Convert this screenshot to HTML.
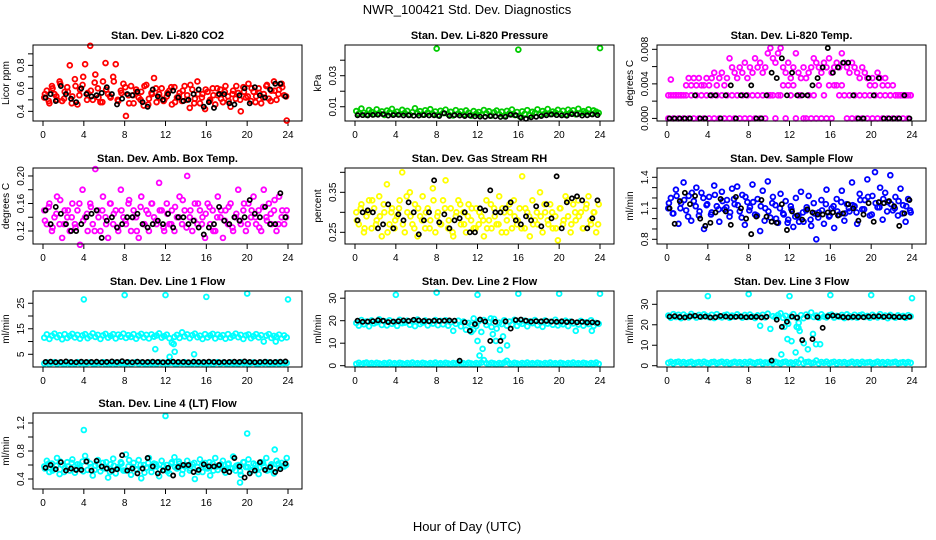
<!DOCTYPE html>
<html><head><meta charset="utf-8"><title>NWR_100421 Std. Dev. Diagnostics</title>
<style>
html,body{margin:0;padding:0;background:#fff;}
svg{display:block;font-family:"Liberation Sans",Arial,sans-serif;}
</style></head>
<body>
<svg id="chart" width="936" height="540" viewBox="0 0 936 540" xmlns="http://www.w3.org/2000/svg">
<text x="467" y="14" text-anchor="middle" font-size="13">NWR_100421  Std. Dev. Diagnostics</text>
<text x="467" y="531" text-anchor="middle" font-size="13">Hour of Day (UTC)</text>
</svg>
<script>
// ---------- data ----------
const xTicks = [0,4,8,12,16,20,24];

const co2Vals = [0.52,0.58,0.47,0.62,0.55,0.50,0.66,0.49,0.57,0.61,0.80,0.53,0.68,0.46,0.59,0.63,
0.81,0.56,0.97,0.50,0.72,0.60,0.48,0.66,0.82,0.55,0.52,0.70,0.81,0.49,0.58,0.64,
0.36,0.54,0.62,0.47,0.59,0.52,0.57,0.45,0.63,0.51,0.56,0.69,0.48,0.55,0.60,0.50,
0.53,0.58,0.46,0.61,0.52,0.56,0.49,0.62,0.54,0.43,0.59,0.51,0.66,0.47,0.55,0.42,
0.57,0.50,0.60,0.46,0.54,0.59,0.48,0.62,0.53,0.44,0.58,0.51,0.56,0.40,0.61,0.52,
0.64,0.49,0.57,0.53,0.60,0.47,0.55,0.62,0.51,0.58,0.66,0.50,0.59,0.64,0.54,0.32];
const co2Vals2 = [0.55,0.49,0.60,0.53,0.64,0.51,0.57,0.47,0.62,0.54,0.70,0.50,0.58,0.65,0.52,0.48,
0.59,0.53,0.66,0.50,0.56,0.61,0.47,0.54,0.57,0.50,0.62,0.46,0.55,0.60,0.52,0.49,
0.56,0.61,0.48,0.53,0.58,0.50,0.63,0.47,0.55,0.52,0.59,0.49,0.54,0.60,0.51,0.57,
0.49,0.55,0.62,0.50,0.57,0.53,0.60,0.48,0.56,0.52,0.63,0.49,0.58,0.55,0.61,0.53];
const co2Black = [0.52,0.55,0.49,0.62,0.55,0.51,0.48,0.60,0.55,0.53,0.54,0.56,0.61,0.55,0.46,0.51,0.55,0.54,0.57,0.48,0.44,0.59,0.53,0.50,0.55,0.58,0.52,0.49,0.50,0.55,0.59,0.44,0.48,0.43,0.55,0.55,0.47,0.46,0.54,0.60,0.47,0.61,0.54,0.52,0.59,0.64,0.64,0.53];

const presVals = [0.0072,0.0055,0.0088,0.0061,0.0049,0.0079,0.0066,0.0052,0.0083,0.0058,0.0070,0.0047,0.0075,0.0063,0.0086,0.0054,
0.0068,0.0051,0.0080,0.0060,0.0073,0.0048,0.0065,0.0090,0.0057,0.0071,0.0050,0.0077,0.0062,0.0084,0.0053,0.0069,
0.0046,0.0074,0.0059,0.0081,0.0052,0.0067,0.0044,0.0078,0.0056,0.0070,0.0049,0.0076,0.0061,0.0042,0.0072,0.0055,
0.0066,0.0048,0.0079,0.0058,0.0071,0.0043,0.0064,0.0075,0.0052,0.0068,0.0040,0.0073,0.0057,0.0082,0.0047,0.0066,
0.0038,0.0070,0.0054,0.0078,0.0045,0.0067,0.0060,0.0083,0.0050,0.0072,0.0058,0.0085,0.0053,0.0069,0.0062,0.0080,
0.0056,0.0074,0.0049,0.0081,0.0063,0.0077,0.0051,0.0087,0.0059,0.0071,0.0064,0.0083,0.0055,0.0076,0.0068,0.0060];
const presOutHours = [8,16,24];
const presOutVals = [0.0475,0.0468,0.0478];
const presBlack = [0.0045,0.0046,0.0044,0.0047,0.0048,0.0052,0.0043,0.0046,0.0047,0.0044,0.0045,0.0042,0.0043,0.0046,0.0044,0.0045,0.0040,0.0058,0.0041,0.0046,0.0043,0.0040,0.0044,0.0038,0.0036,0.0035,0.0040,0.0038,0.0034,0.0035,0.0048,0.0045,0.0030,0.0022,0.0032,0.0035,0.0040,0.0045,0.0050,0.0046,0.0044,0.0042,0.0052,0.0050,0.0043,0.0045,0.0050,0.0046];

const tempLow = [0,0.0045,0,0.00267,0,0.00267,0,0.00267,0,0.00267,0,0.00267,0,0.00267,0,0.00267,
0,0.00267,0,0.00267,0,0.00267,0,0.00267,0,0.00267,0,0.00267,0,0.00267,0,0.00267,
0,0.00267,0,0.00267,0,0.00267,0,0.00267,0.00267,0.00267,0,0.00267,0.00267,0.00383,0,0.00383,
0.00267,0.00383,0,0.00267,0.00267,0,0,0.00267,0,0.00267,0,0.00383,0,0.00267,0,0.00383,
0,0.00383,0.00383,0.00267,0.00383,0.00267,0,0.00267,0,0.00267,0,0.00267,0,0.00267,0,0.00267,
0,0.00267,0,0.00267,0,0.00267,0,0.00267,0,0.00267,0,0.00267,0,0.00267,0,0.00267];
const tempHigh = [0.00267,0.00267,0.00267,0.00267,0.00267,0.00267,0.00267,0.00383,0.00467,0.00383,0.00467,0.00383,0.00467,0.00383,0.00383,0.00467,
0.00383,0.00467,0.00529,0.00383,0.00467,0.00529,0.00383,0.00467,0.00696,0.00591,0.00529,0.00467,0.00591,0.00529,0.00645,0.00467,
0.00591,0.00529,0.00696,0.00591,0.00645,0.00529,0.00591,0.00754,0.00815,0.00696,0.00645,0.00754,0.00815,0.00591,0.00529,0.00645,
0.00467,0.00591,0.00754,0.00529,0.00467,0.00591,0.00467,0.00529,0.00591,0.00696,0.00645,0.00591,0.00529,0.00645,0.00591,0.00696,
0.00529,0.00591,0.00645,0.00591,0.00754,0.00645,0.00591,0.00529,0.00645,0.00591,0.00529,0.00467,0.00591,0.00529,0.00467,0.00383,
0.00467,0.00383,0.00529,0.00467,0.00383,0.00467,0.00383,0.00267,0.00383,0.00267,0.00267,0.00267,0.00267,0.00267,0.00267,0.00267];
const tempBlack = [0,0,0,0,0,0.00267,0,0,0.00267,0.00267,0,0.00267,0.00383,0,0.00267,0.00267,0.00383,0,0,0.00267,0.00529,0.00467,0.00696,0.00267,0.00529,0.00267,0.00267,0.00267,0.00383,0.00467,0.00591,0.00815,0.00529,0.00591,0.00645,0.00645,0.00267,0,0,0.00467,0.00267,0.00467,0,0,0,0,0.00267,0];

const boxVals = [0.15,0.13,0.16,0.12,0.14,0.17,0.13,0.11,0.15,0.14,0.12,0.16,0.13,0.15,0.10,0.18,
0.14,0.12,0.16,0.13,0.21,0.15,0.12,0.17,0.14,0.11,0.16,0.13,0.15,0.12,0.18,0.14,
0.13,0.16,0.12,0.15,0.14,0.11,0.17,0.13,0.15,0.12,0.16,0.14,0.13,0.19,0.15,0.12,
0.16,0.13,0.15,0.12,0.14,0.17,0.13,0.15,0.20,0.14,0.12,0.16,0.13,0.15,0.14,0.11,
0.16,0.13,0.15,0.12,0.17,0.14,0.11,0.15,0.13,0.16,0.12,0.14,0.18,0.13,0.15,0.12,
0.16,0.14,0.17,0.13,0.15,0.12,0.18,0.14,0.16,0.13,0.15,0.12,0.17,0.14,0.13,0.15];
const boxVals2 = [0.135,0.155,0.125,0.145,0.165,0.13,0.15,0.14,0.125,0.16,0.135,0.145,0.155,0.12,0.14,0.15,
0.13,0.16,0.145,0.125,0.15,0.135,0.165,0.14,0.12,0.155,0.13,0.145,0.16,0.135,0.15,0.125,
0.145,0.13,0.155,0.14,0.165,0.125,0.15,0.135,0.16,0.13,0.145,0.155,0.12,0.14,0.15,0.135,
0.155,0.125,0.145,0.135,0.16,0.13,0.15,0.14,0.125,0.155,0.135,0.145,0.165,0.13,0.15,0.14];
const boxBlack = [0.15,0.13,0.155,0.145,0.13,0.12,0.12,0.13,0.14,0.145,0.15,0.11,0.135,0.14,0.125,0.13,0.14,0.14,0.145,0.13,0.125,0.13,0.135,0.13,0.145,0.125,0.14,0.14,0.13,0.135,0.125,0.115,0.125,0.13,0.155,0.135,0.13,0.14,0.135,0.14,0.165,0.145,0.14,0.155,0.13,0.13,0.175,0.14];

const rhVals = [0.30,0.27,0.32,0.25,0.29,0.33,0.26,0.31,0.28,0.34,0.24,0.30,0.37,0.27,0.31,0.26,
0.29,0.33,0.40,0.25,0.30,0.35,0.27,0.32,0.24,0.29,0.34,0.26,0.31,0.28,0.36,0.25,
0.30,0.27,0.33,0.38,0.26,0.31,0.24,0.29,0.33,0.27,0.30,0.25,0.32,0.28,0.26,0.31,
0.27,0.29,0.24,0.33,0.28,0.26,0.31,0.27,0.34,0.25,0.30,0.28,0.32,0.26,0.29,0.27,
0.31,0.39,0.26,0.30,0.24,0.33,0.28,0.27,0.35,0.25,0.30,0.28,0.32,0.26,0.29,0.23,
0.31,0.27,0.34,0.29,0.25,0.32,0.28,0.33,0.30,0.26,0.31,0.34,0.27,0.30,0.25,0.32];
const rhVals2 = [0.28,0.31,0.26,0.30,0.33,0.27,0.29,0.32,0.25,0.30,0.28,0.31,0.27,0.34,0.29,0.26,
0.31,0.28,0.30,0.26,0.33,0.29,0.27,0.31,0.28,0.25,0.30,0.32,0.27,0.29,0.31,0.26,
0.30,0.28,0.26,0.32,0.29,0.27,0.31,0.25,0.30,0.33,0.28,0.26,0.31,0.29,0.27,0.30,
0.29,0.32,0.27,0.30,0.26,0.31,0.28,0.33,0.27,0.30,0.29,0.26,0.32,0.28,0.30,0.27];
const rhBlack = [0.28,0.30,0.305,0.30,0.26,0.27,0.32,0.26,0.295,0.28,0.325,0.30,0.245,0.28,0.30,0.38,0.275,0.295,0.26,0.28,0.285,0.30,0.25,0.25,0.31,0.305,0.355,0.30,0.30,0.31,0.325,0.28,0.27,0.29,0.28,0.315,0.265,0.32,0.285,0.39,0.26,0.325,0.335,0.34,0.33,0.26,0.285,0.33];

const flowVals = [1.10,1.20,1.05,1.28,0.95,1.15,1.35,1.08,1.22,0.98,1.17,1.30,1.03,1.25,0.90,1.13,
1.21,1.06,1.32,1.12,0.97,1.26,1.09,1.18,1.02,1.29,1.14,1.31,1.07,1.23,0.94,1.16,
1.11,1.33,1.04,1.19,0.88,1.27,1.10,1.36,1.01,1.21,1.13,0.96,1.24,1.05,1.17,0.99,
1.12,0.92,1.20,1.03,1.26,0.97,1.08,1.22,0.93,1.15,0.80,1.06,1.18,0.95,1.28,1.02,
1.10,0.91,1.19,1.04,1.27,0.98,1.14,1.07,1.35,1.12,0.95,1.24,1.09,1.18,1.38,1.03,
1.22,1.45,1.11,1.30,0.99,1.25,1.16,1.42,1.08,1.21,1.03,1.29,1.13,0.97,1.19,1.06];
const flowVals2 = [1.15,1.05,1.22,1.10,1.18,1.02,1.25,1.12,1.07,1.20,1.14,1.04,1.23,1.09,1.17,1.11,
1.06,1.19,1.13,1.01,1.21,1.08,1.16,1.03,1.12,0.98,1.07,1.15,1.00,1.10,1.04,0.96,
1.09,1.02,0.97,1.06,1.11,0.99,1.05,1.01,1.08,1.14,1.03,1.12,1.07,1.16,1.05,1.10,
1.13,1.06,1.18,1.09,1.21,1.04,1.15,1.11,1.19,1.07,1.14,1.10,1.17,1.05,1.12,1.08];
const flowBlack = [1.10,0.95,1.17,1.25,1.14,1.22,1.00,0.93,0.96,1.06,1.19,1.07,0.94,1.21,1.10,1.00,0.85,1.02,1.18,1.02,0.97,0.96,1.14,0.89,1.07,1.03,0.99,1.09,1.06,1.04,1.04,1.06,1.06,1.03,1.05,1.14,1.10,0.98,1.04,1.15,0.97,1.16,1.15,1.17,1.12,0.93,1.05,1.18];

const l1Top = [11.5,12.8,11.0,12.3,13.1,11.7,12.5,10.9,12.9,11.4,12.2,13.0,11.6,12.6,11.1,12.4,
12.9,11.3,12.1,13.2,11.8,12.6,11.0,12.4,13.0,11.5,12.2,12.9,11.2,12.7,11.9,13.1,
11.4,12.5,11.8,12.9,11.1,12.3,13.0,11.6,12.6,11.2,12.8,11.9,12.4,13.2,11.5,12.1,
12.7,11.3,9.5,11.8,12.6,11.4,13.6,12.0,12.8,11.3,12.5,13.1,11.7,12.3,11.0,12.9,
11.6,12.4,13.0,11.2,12.7,11.8,12.5,11.1,12.9,11.5,12.2,13.1,11.7,12.6,11.0,12.4,
12.8,11.3,12.1,12.9,11.6,12.5,10.0,12.3,12.9,11.4,12.2,11.8,12.7,11.2,12.4,11.6];
const l1Bottom = [1.4,1.8,1.2,1.6,1.9,1.3,1.7,1.5,1.2,1.8,1.4,1.6,1.3,1.9,1.5,1.7,
1.2,1.6,1.8,1.4,1.3,1.7,1.5,1.9,1.2,1.6,1.4,1.8,1.3,1.7,1.5,1.6,
1.4,1.8,1.2,1.6,1.9,1.3,1.7,1.5,1.2,1.8,1.4,1.6,1.3,1.9,1.5,1.7,
1.2,1.6,1.8,1.4,1.3,1.7,1.5,1.9,1.2,1.6,1.4,1.8,1.3,1.7,1.5,1.6,
1.4,1.8,1.2,1.6,1.9,1.3,1.7,1.5,1.2,1.8,1.4,1.6,1.3,1.9,1.5,1.7,
1.2,1.6,1.8,1.4,1.3,1.7,1.5,1.9,1.2,1.6,1.4,1.8,1.3,1.7,1.5,1.6];
const l1OutHours = [4,8,12,16,20,24,11,12.4,12.8,12.9,14.8,22.8];
const l1OutVals = [26.5,28.2,28.2,27.5,28.8,26.5,7,4,9,6,5,10];
const l1Black = [2.0,2.1,1.9,2.0,2.2,2.0,1.9,2.1,2.0,2.0,2.1,1.9,2.0,2.2,2.0,2.3,2.0,1.9,2.1,2.0,2.0,2.1,2.0,1.9,2.0,2.1,2.0,2.0,1.9,2.1,2.0,2.0,2.1,2.0,1.9,2.0,2.0,2.1,2.0,2.2,2.0,1.9,2.0,2.1,2.0,2.0,2.1,2.2];

const l2Top = [19.0,17.8,20.3,18.4,19.6,17.5,20.1,18.8,19.3,20.6,18.1,19.8,17.9,20.2,18.6,19.4,
17.7,20.4,18.9,19.1,20.0,18.2,19.7,17.6,20.5,18.5,19.2,20.1,17.9,19.5,18.7,20.3,
18.0,19.9,18.4,20.2,17.8,19.3,15.5,18.6,20.0,17.5,19.6,16.0,19.0,18.2,21.0,17.6,
19.8,15.0,20.3,18.1,19.4,17.2,20.8,16.5,19.1,18.5,20.2,17.8,19.6,18.3,20.4,17.7,
19.2,18.6,20.0,17.5,19.7,18.9,20.3,18.0,19.4,17.3,20.1,18.7,19.5,18.2,20.4,17.9,
19.1,18.4,20.0,17.6,19.6,18.8,15.5,18.3,19.9,17.8,19.3,18.5,20.2,17.7,19.0,18.6];
const l2Bottom = [0.8,1.3,0.6,1.1,1.4,0.9,1.2,0.7,1.3,1.0,0.6,1.2,0.9,1.4,0.8,1.1,
0.7,1.3,1.0,0.6,1.2,0.9,1.4,0.8,1.1,0.7,1.3,1.0,0.6,1.2,0.9,1.4,
0.8,1.1,0.7,1.3,1.0,0.6,1.2,0.9,1.4,0.8,1.1,0.7,1.3,1.0,0.6,1.2,
0.9,1.4,2.5,1.1,0.7,1.3,1.0,0.6,1.2,0.9,1.4,2.2,1.1,0.7,1.3,1.0,
0.6,1.2,0.9,1.4,0.8,1.1,0.7,1.3,1.0,0.6,1.2,0.9,1.4,0.8,1.1,0.7,
1.3,1.0,0.6,1.2,0.9,1.4,0.8,1.1,0.7,1.3,1.0,0.6,1.2,0.9,1.4,0.8];
const l2OutHours = [4,8,12,16,20,24,11.6,12.2,12.5,13.5,13.8,14.2,14.5,14.9,23.2,12.0,11.4,13.3];
const l2OutVals = [31.5,32.5,31.5,32,32,32,16,4.5,7.5,14,11,7,13,9,15.5,11,15,21];
const l2Black = [20.0,19.5,19.6,19.8,20.2,20.0,19.4,19.6,19.8,20.1,19.9,20.4,20.1,19.9,19.8,20.0,19.9,20.0,20.1,20.0,2.2,19.3,15.5,18.5,20.5,19.6,11.0,19.5,11.0,19.7,16.5,20.3,20.5,20.0,19.6,19.8,19.7,19.9,19.6,19.5,19.7,19.4,19.6,19.3,19.5,19.2,19.3,19.0];

const l3Top = [24.5,23.4,25.2,23.8,24.9,23.2,25.0,24.1,23.6,25.3,24.4,23.5,24.8,23.9,25.1,24.3,
23.7,24.9,23.3,25.2,24.0,23.6,24.7,25.0,23.4,24.5,23.9,25.1,24.2,23.5,24.8,23.8,
25.0,24.1,23.3,24.6,19.5,24.9,23.6,25.4,18.0,24.2,23.7,24.8,25.6,23.4,24.4,20.5,
24.0,25.2,23.6,18.5,24.7,23.2,25.0,24.1,26.0,23.8,24.5,23.4,25.1,24.0,23.6,24.7,
25.0,23.5,24.3,23.9,24.8,23.3,25.1,24.2,23.7,24.9,23.5,24.6,25.0,23.8,24.3,23.4,
24.9,24.1,23.6,25.2,23.9,24.5,23.2,24.8,24.0,23.5,24.6,23.9,24.3,23.4,24.7,24.1];
const l3Bottom = [1.4,1.9,1.1,1.7,2.0,1.3,1.8,1.2,1.6,1.9,1.0,1.5,1.8,1.3,2.0,1.4,
1.1,1.7,1.9,1.2,1.6,2.0,1.3,1.8,1.0,1.5,1.9,1.4,1.7,1.1,1.8,1.3,
2.0,1.5,1.2,1.7,1.9,1.0,1.6,1.4,1.8,1.2,1.9,1.5,1.1,1.7,2.0,1.3,
1.6,1.0,1.8,1.4,3.0,1.2,1.7,1.9,1.3,1.5,2.5,1.1,1.8,1.4,2.0,1.2,
1.6,1.9,1.0,1.7,1.4,1.8,1.2,1.5,2.0,1.3,1.7,1.1,1.9,1.4,1.6,1.8,
1.2,1.5,2.0,1.3,1.7,1.0,1.8,1.4,1.6,1.9,1.2,1.5,1.7,1.3,1.8,1.4];
const l3OutHours = [4,8,12,16,20,24,11.5,11.8,12.2,12.6,12.7,13.0,13.4,13.8,14.3,14.6,15.0,11.2,12.9];
const l3OutVals = [34,35,34,34.5,34.5,33,19,13,12,6.5,19,17,11,8,15.5,10.5,10.5,5.5,21];
const l3Black = [24.0,24.2,23.8,23.6,24.1,24.4,23.9,24.0,23.6,23.7,24.3,24.0,23.8,23.9,24.0,23.7,23.8,23.9,23.6,23.9,2.5,22.5,19.0,21.5,24.0,23.5,12.5,24.0,13.0,23.7,18.5,24.1,24.5,24.2,23.8,23.6,23.9,23.8,23.7,24.0,24.0,24.2,23.9,24.1,23.9,23.8,23.7,23.9];

const l4Vals = [0.58,0.66,0.50,0.62,0.54,0.70,0.47,0.60,0.56,0.64,0.52,0.68,0.49,0.61,0.57,0.65,
0.73,0.53,0.62,0.45,0.59,0.67,0.51,0.63,0.55,0.42,0.61,0.69,0.48,0.57,0.64,0.52,
0.75,0.58,0.46,0.63,0.54,0.67,0.41,0.60,0.56,0.70,0.50,0.62,0.58,0.44,0.66,0.53,
0.60,0.48,0.64,0.71,0.55,0.62,0.47,0.58,0.66,0.52,0.61,0.40,0.57,0.68,0.50,0.63,
0.55,0.45,0.62,0.70,0.53,0.59,0.66,0.49,0.61,0.56,0.72,0.52,0.60,0.46,0.64,0.57,
0.68,0.51,0.62,0.55,0.47,0.64,0.59,0.70,0.53,0.61,0.48,0.66,0.56,0.63,0.58,0.70];
const l4Vals2 = [0.55,0.62,0.52,0.59,0.65,0.50,0.58,0.63,0.54,0.60,0.51,0.66,0.57,0.53,0.61,0.56,
0.64,0.50,0.59,0.55,0.62,0.52,0.67,0.57,0.53,0.60,0.49,0.63,0.56,0.61,0.54,0.58,
0.51,0.62,0.57,0.65,0.53,0.59,0.55,0.63,0.50,0.60,0.56,0.64,0.52,0.58,0.61,0.54,
0.62,0.55,0.59,0.51,0.64,0.57,0.53,0.60,0.56,0.63,0.52,0.59,0.55,0.62,0.58,0.60];
const l4OutHours = [4,12,20,22.7,19.3];
const l4OutVals = [1.1,1.3,1.05,0.82,0.35];
const l4Black = [0.56,0.60,0.54,0.64,0.52,0.55,0.53,0.53,0.65,0.52,0.66,0.58,0.55,0.52,0.54,0.74,0.52,0.55,0.48,0.55,0.70,0.58,0.48,0.52,0.56,0.45,0.57,0.60,0.60,0.50,0.53,0.61,0.58,0.58,0.60,0.52,0.50,0.70,0.58,0.42,0.48,0.52,0.64,0.53,0.57,0.50,0.54,0.62];

// y-axis ticks
const co2Ticks=[0.4,0.5,0.6,0.7,0.8,0.9], co2Labels=["0.4","","0.6","","0.8",""];
const presTicks=[0.01,0.02,0.03,0.04], presLabels=["0.01","","0.03",""];
const tempTicks=[0,0.002,0.004,0.006,0.008], tempLabels=["0.000","","0.004","","0.008"];
const boxTicks=[0.12,0.14,0.16,0.18,0.20], boxLabels=["0.12","","0.16","","0.20"];
const rhTicks=[0.25,0.30,0.35,0.40], rhLabels=["0.25","","0.35",""];
const flowTicks=[0.8,0.9,1.0,1.1,1.2,1.3,1.4], flowLabels=["0.8","","","1.1","","","1.4"];
const l1Ticks=[5,10,15,20,25], l1Labels=["5","","15","","25"];
const l2Ticks=[0,10,20,30], l2Labels=["0","10","20","30"];
const l3Ticks=[0,10,20,30], l3Labels=["0","10","20","30"];
const l4Ticks=[0.4,0.6,0.8,1.0,1.2], l4Labels=["0.4","","0.8","","1.2"];

// ---------- rendering ----------
const NS="http://www.w3.org/2000/svg";
const svg=document.getElementById('chart');
const colL=[33,345,657], rowT=[45,168,291,413], BW=269, BH=76;
function mk(tag,attrs,parent){const e=document.createElementNS(NS,tag);for(const k in attrs)e.setAttribute(k,attrs[k]);(parent||svg).appendChild(e);return e;}

const panels=[
 {key:'co2',title:'Stan. Dev. Li-820 CO2',ylab:'Licor ppm',c:0,r:0,lo:0.316,hi:0.977,ticks:co2Ticks,labels:co2Labels,
  series:[{col:'#ff0000',v:co2Vals},{col:'#ff0000',v:co2Vals2},{col:'#000',v:co2Black,blk:1}]},
 {key:'pressure',title:'Stan. Dev. Li-820 Pressure',ylab:'kPa',c:1,r:0,lo:0.0008,hi:0.0498,ticks:presTicks,labels:presLabels,
  series:[{col:'#00cc00',v:presVals},{col:'#00cc00',v:presOutVals,h:presOutHours},{col:'#000',v:presBlack,blk:1}]},
 {key:'temp',title:'Stan. Dev. Li-820 Temp.',ylab:'degrees C',c:2,r:0,lo:-0.0003,hi:0.0085,ticks:tempTicks,labels:tempLabels,
  series:[{col:'#ff00ff',v:tempLow},{col:'#ff00ff',v:tempHigh},{col:'#000',v:tempBlack,blk:1}]},
 {key:'ambbox',title:'Stan. Dev. Amb. Box Temp.',ylab:'degrees C',c:0,r:1,lo:0.1011,hi:0.2116,ticks:boxTicks,labels:boxLabels,
  series:[{col:'#ff00ff',v:boxVals},{col:'#ff00ff',v:boxVals2},{col:'#000',v:boxBlack,blk:1}]},
 {key:'rh',title:'Stan. Dev. Gas Stream RH',ylab:'percent',c:1,r:1,lo:0.2208,hi:0.4108,ticks:rhTicks,labels:rhLabels,
  series:[{col:'#ffff00',v:rhVals},{col:'#ffff00',v:rhVals2},{col:'#000',v:rhBlack,blk:1}]},
 {key:'sampleflow',title:'Stan. Dev. Sample Flow',ylab:'ml/min',c:2,r:1,lo:0.7545,hi:1.49,ticks:flowTicks,labels:flowLabels,
  series:[{col:'#0000ff',v:flowVals},{col:'#0000ff',v:flowVals2},{col:'#000',v:flowBlack,blk:1}]},
 {key:'line1',title:'Stan. Dev. Line 1 Flow',ylab:'ml/min',c:0,r:2,lo:0.02,hi:29.8,ticks:l1Ticks,labels:l1Labels,
  series:[{col:'#00ffff',v:l1Top},{col:'#00ffff',v:l1Bottom},{col:'#00ffff',v:l1OutVals,h:l1OutHours},{col:'#000',v:l1Black,blk:1}]},
 {key:'line2',title:'Stan. Dev. Line 2 Flow',ylab:'ml/min',c:1,r:2,lo:-0.58,hi:33.2,ticks:l2Ticks,labels:l2Labels,
  series:[{col:'#00ffff',v:l2Top},{col:'#00ffff',v:l2Bottom},{col:'#00ffff',v:l2OutVals,h:l2OutHours},{col:'#000',v:l2Black,blk:1}]},
 {key:'line3',title:'Stan. Dev. Line 3 Flow',ylab:'ml/min',c:2,r:2,lo:-0.63,hi:36.5,ticks:l3Ticks,labels:l3Labels,
  series:[{col:'#00ffff',v:l3Top},{col:'#00ffff',v:l3Bottom},{col:'#00ffff',v:l3OutVals,h:l3OutHours},{col:'#000',v:l3Black,blk:1}]},
 {key:'line4',title:'Stan. Dev. Line 4 (LT) Flow',ylab:'ml/min',c:0,r:3,lo:0.257,hi:1.343,ticks:l4Ticks,labels:l4Labels,
  series:[{col:'#00ffff',v:l4Vals},{col:'#00ffff',v:l4Vals2},{col:'#00ffff',v:l4OutVals,h:l4OutHours},{col:'#000',v:l4Black,blk:1}]}
];

panels.forEach(p=>{
  const L=colL[p.c], T=rowT[p.r], B=T+BH, R=L+BW;
  const xs=h=>L+10+h/24*245;
  const ys=v=>B-(v-p.lo)/(p.hi-p.lo)*BH;
  const g=mk('g',{});
  
  
  const t=mk('text',{x:(L+R)/2,y:T-6,'text-anchor':'middle','font-size':11,'font-weight':'bold'},g);
  t.textContent=p.title;
  
  
  const yl=mk('text',{x:0,y:0,'text-anchor':'middle','font-size':10,transform:`translate(${L-24},${(T+B)/2}) rotate(-90)`},g);
  yl.textContent=p.ylab;
  
  
  const xa=mk('g',{},g);
  
  
  mk('line',{x1:xs(xTicks[0]),x2:xs(xTicks[xTicks.length-1]),y1:B,y2:B,stroke:'#000'},xa);
  xTicks.forEach(v=>{
    mk('line',{x1:xs(v),x2:xs(v),y1:B,y2:B+5,stroke:'#000'},xa);
    const tl=mk('text',{x:xs(v),y:B+17,'text-anchor':'middle','font-size':10},xa);
    tl.textContent=String(v);
    
    
  });
  const ya=mk('g',{},g);
  
  
  mk('line',{x1:L,x2:L,y1:ys(p.ticks[0]),y2:ys(p.ticks[p.ticks.length-1]),stroke:'#000'},ya);
  p.ticks.forEach((v,i)=>{
    mk('line',{x1:L-5,x2:L,y1:ys(v),y2:ys(v),stroke:'#000'},ya);
    if(p.labels[i]){
      const tl=mk('text',{x:0,y:0,'text-anchor':'middle','font-size':10,transform:`translate(${L-9},${ys(v)}) rotate(-90)`},ya);
      tl.textContent=p.labels[i];
      
      
    }
  });
  const cl=mk('clipPath',{id:'clip-'+p.key},g);
  mk('rect',{x:L,y:T-4,width:BW,height:BH+8},cl);
  const pts=mk('g',{'clip-path':`url(#clip-${p.key})`},g);
  
  
  p.series.forEach(s=>{
    const n=s.v.length;
    s.v.forEach((v,i)=>{
      const h=s.h?s.h[i]:(i+0.5)*24/n;
      const c=mk('circle',{cx:xs(h),cy:ys(v),r:s.blk?2.1:2.4,fill:'none',stroke:s.col,'stroke-width':s.blk?1.7:1.8},pts);
      
      
    });
  });
  const bx=mk('rect',{x:L,y:T,width:BW,height:BH,fill:'none',stroke:'#000','stroke-width':1},g);
  
  
});
</script>
</body></html>
